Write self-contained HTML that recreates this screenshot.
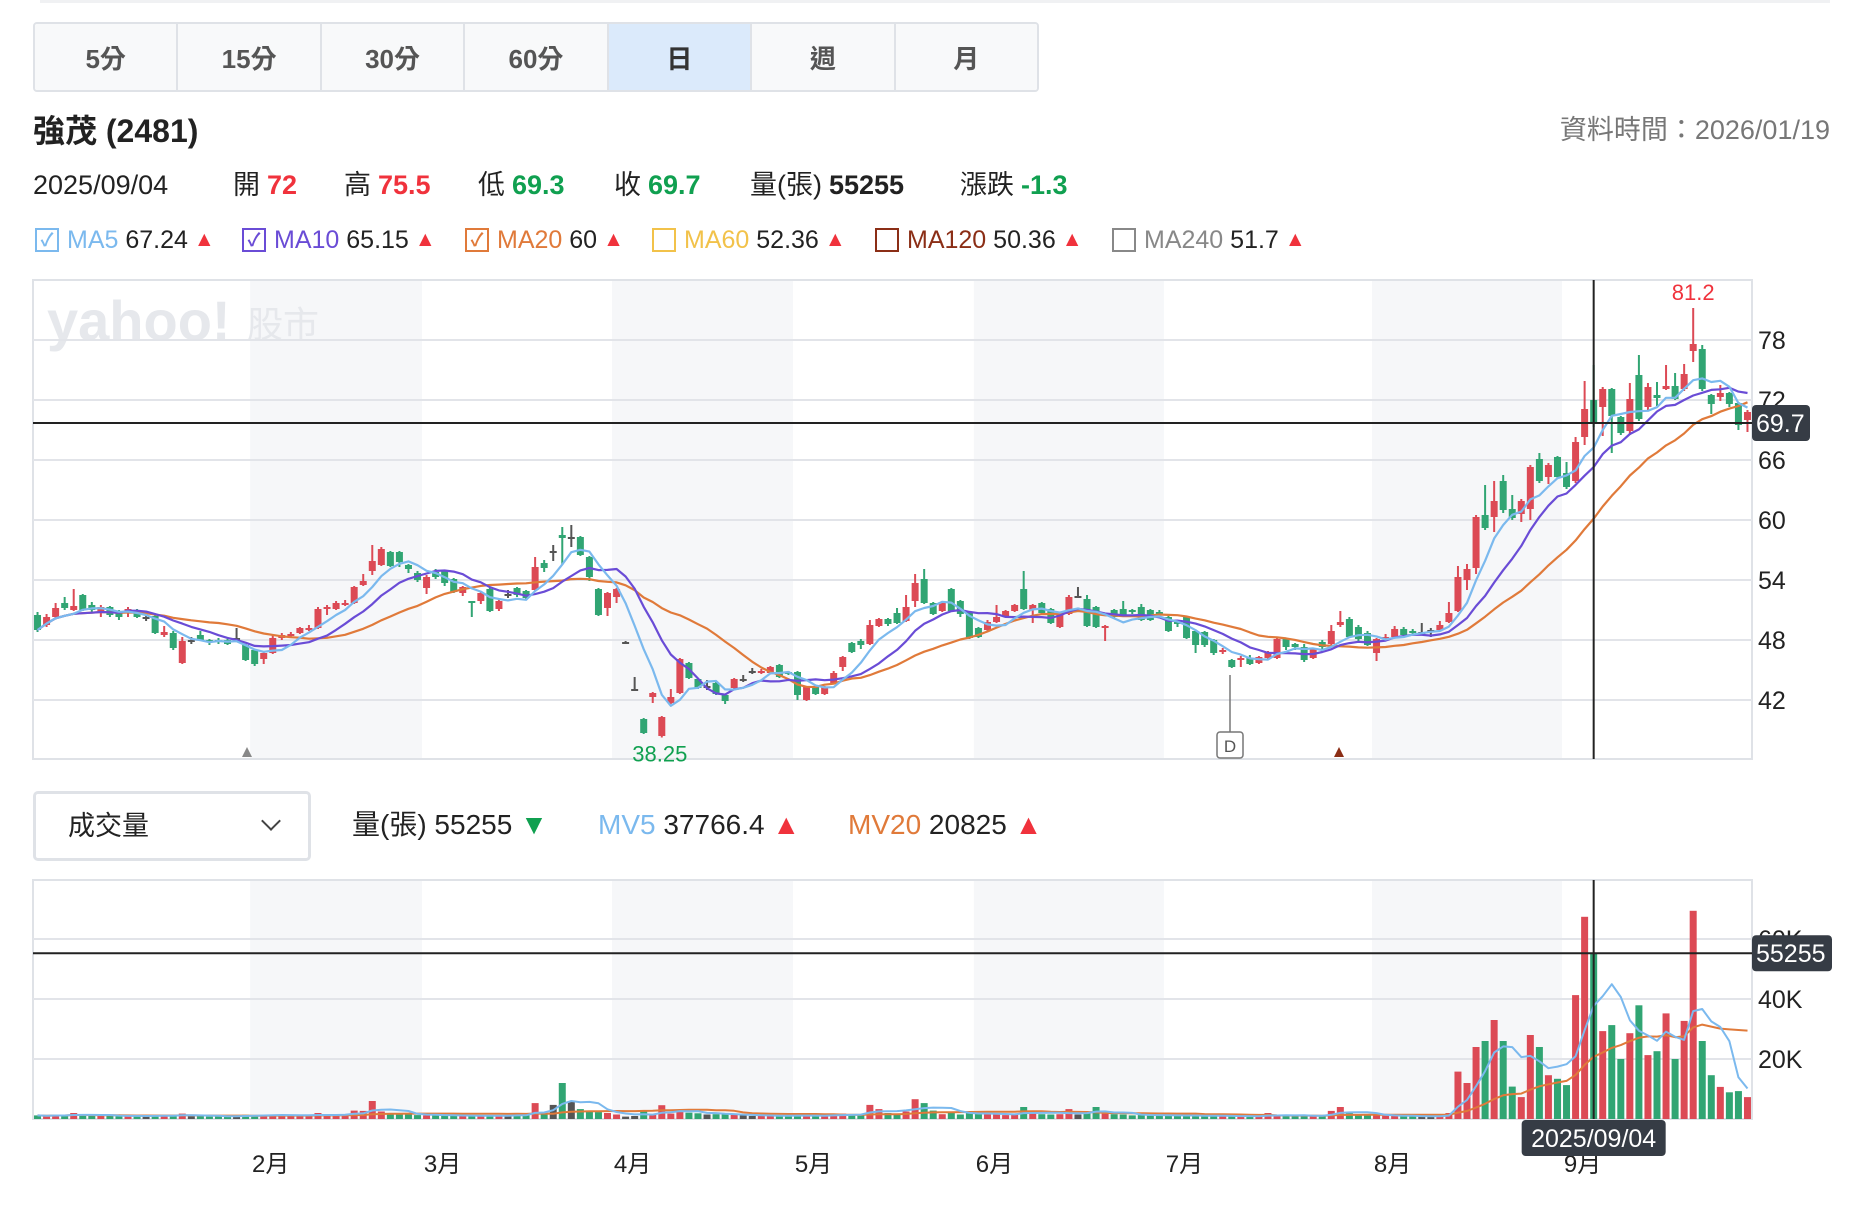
<!DOCTYPE html>
<html><head><meta charset="utf-8">
<style>
*{margin:0;padding:0;box-sizing:border-box}
body{width:1852px;height:1210px;background:#fff;position:relative;overflow:hidden;font-family:"Liberation Sans","Noto Sans CJK TC",sans-serif;color:#222}
.abs{position:absolute;white-space:nowrap}
.tabs{left:33px;top:22px;width:1006px;height:70px;border:2px solid #dfe2e7;border-radius:4px;display:flex;overflow:hidden}
.tab{flex:1;display:flex;align-items:center;justify-content:center;font-size:26px;font-weight:bold;color:#555;border-right:2px solid #dfe2e7;background:#f8f9fa}
.tab:last-child{border-right:none}
.tab.on{background:#dbeafb;color:#333}
.red{color:#f0323c}.green{color:#10a050}
.info{top:168px;height:34px;line-height:34px;font-size:27px;display:flex;align-items:center}
.info b{font-weight:bold;margin-left:7px}
.ma{top:224px;height:32px;line-height:32px;font-size:25px;display:flex;align-items:center}
.cb{width:24px;height:24px;border:2px solid;margin-right:8px;display:inline-flex;align-items:center;justify-content:center;font-size:18px;font-weight:bold;line-height:1}
.tri{color:#f0323c;font-size:21px;margin-left:6px}
.vl{top:808px;height:34px;line-height:34px;font-size:28px;display:flex;align-items:center}
</style></head><body>
<div class="abs" style="left:40px;top:0;width:1790px;height:3px;background:#f0f1f3"></div>
<div class="abs tabs">
<div class="tab">5分</div>
<div class="tab">15分</div>
<div class="tab">30分</div>
<div class="tab">60分</div>
<div class="tab on">日</div>
<div class="tab">週</div>
<div class="tab">月</div>
</div>
<div class="abs" style="left:33px;top:111px;height:40px;line-height:40px;font-size:32px;font-weight:bold">強茂 (2481)</div>
<div class="abs" style="right:22px;top:112px;height:36px;line-height:36px;font-size:27px;color:#777">資料時間：2026/01/19</div>
<div class="abs info" style="left:33px">2025/09/04</div>
<div class="abs info" style="left:233px">開<b class="red">72</b></div>
<div class="abs info" style="left:344px">高<b class="red">75.5</b></div>
<div class="abs info" style="left:478px">低<b class="green">69.3</b></div>
<div class="abs info" style="left:614px">收<b class="green">69.7</b></div>
<div class="abs info" style="left:750px">量(張)<b>55255</b></div>
<div class="abs info" style="left:960px">漲跌<b class="green">-1.3</b></div>

<div class="abs ma" style="left:35px"><span class="cb" style="border-color:#7bb9ee;color:#7bb9ee">✓</span><span style="color:#7bb9ee">MA5</span>&nbsp;67.24<span class="tri">▲</span></div>
<div class="abs ma" style="left:242px"><span class="cb" style="border-color:#6a4cd6;color:#6a4cd6">✓</span><span style="color:#6a4cd6">MA10</span>&nbsp;65.15<span class="tri">▲</span></div>
<div class="abs ma" style="left:465px"><span class="cb" style="border-color:#e07a3a;color:#e07a3a">✓</span><span style="color:#e07a3a">MA20</span>&nbsp;60<span class="tri">▲</span></div>
<div class="abs ma" style="left:652px"><span class="cb" style="border-color:#f2c24a"></span><span style="color:#f2c24a">MA60</span>&nbsp;52.36<span class="tri">▲</span></div>
<div class="abs ma" style="left:875px"><span class="cb" style="border-color:#8b2e16"></span><span style="color:#8b2e16">MA120</span>&nbsp;50.36<span class="tri">▲</span></div>
<div class="abs ma" style="left:1112px"><span class="cb" style="border-color:#888"></span><span style="color:#888">MA240</span>&nbsp;51.7<span class="tri">▲</span></div>

<div class="abs" style="left:33px;top:791px;width:278px;height:70px;border:3px solid #dfe2e7;border-radius:5px;font-size:27px;line-height:64px;padding-left:32px">成交量<span style="position:absolute;right:30px;top:20px;width:14px;height:14px;border-right:2.5px solid #444;border-bottom:2.5px solid #444;transform:rotate(45deg)"></span></div>
<div class="abs vl" style="left:352px">量(張) 55255&nbsp;<span style="color:#10a050">▼</span></div>
<div class="abs vl" style="left:598px"><span style="color:#7bb9ee">MV5</span>&nbsp;37766.4&nbsp;<span class="red">▲</span></div>
<div class="abs vl" style="left:848px"><span style="color:#e07a3a">MV20</span>&nbsp;20825&nbsp;<span class="red">▲</span></div>

<svg id="chart" class="abs" style="left:0;top:0" width="1852" height="1210"></svg>
<script>
const opens=[50.5,49.5,50.3,51.7,51.0,52.5,51.5,50.8,51.3,50.8,50.8,51.0,50.3,50.4,48.5,48.7,45.7,48.0,48.5,48.0,48.0,48.0,48.2,47.5,47.0,46.1,46.7,48.2,48.5,48.7,49.0,49.2,51.1,51.1,51.5,51.7,53.5,54.9,55.5,56.8,56.8,55.5,54.7,53.2,54.8,54.9,54.1,52.7,51.9,51.9,53.1,51.1,52.6,53.2,52.9,53.0,55.7,56.9,58.5,58.3,58.3,56.3,53.1,51.2,52.3,47.8,43.1,40.1,42.3,38.4,41.7,42.7,45.7,44.1,43.4,43.7,42.5,43.2,44.1,44.9,44.7,44.7,45.5,44.8,44.8,42.0,43.3,42.6,43.7,45.3,47.7,47.9,47.6,49.4,50.1,50.7,49.9,51.9,54.1,51.7,50.9,53.1,51.9,50.8,49.2,49.0,49.8,50.4,50.9,53.1,51.0,51.7,51.1,49.3,50.6,52.4,52.1,51.3,49.3,51.0,51.1,51.0,51.3,51.0,50.8,50.3,49.8,50.3,48.9,48.8,48.0,46.9,46.0,46.0,46.2,45.7,46.2,46.2,48.1,47.6,47.3,46.2,47.8,47.6,49.5,50.1,49.3,48.7,46.7,48.2,48.3,49.1,48.9,48.8,49.0,49.0,49.8,50.9,54.0,55.2,60.5,60.3,63.9,61.1,60.6,61.1,66.1,64.3,66.3,64.7,63.9,68.3,72.0,71.3,73.1,70.3,68.9,74.5,71.3,72.5,73.1,73.4,73.1,76.9,77.1,72.5,72.3,72.7,71.7,70.0];
const closes=[49.0,50.3,51.2,51.2,51.4,51.0,51.0,51.3,50.5,50.3,51.1,50.3,50.3,48.7,48.8,47.2,47.9,48.0,48.0,47.8,47.8,47.6,48.2,46.0,45.6,46.7,48.2,48.5,48.6,49.2,49.2,51.1,51.3,51.7,51.7,53.3,53.9,55.9,57.1,55.4,55.8,55.1,54.0,54.3,54.3,53.7,52.8,53.3,51.7,52.7,50.9,51.9,52.6,52.5,52.2,55.3,55.2,56.9,58.2,58.3,56.5,54.3,50.5,52.7,53.1,47.8,43.1,38.7,42.7,40.3,42.3,46.1,44.2,43.2,43.4,42.6,41.9,44.1,44.1,44.9,44.9,45.3,44.3,44.6,42.5,43.3,42.6,43.3,44.7,46.3,46.8,47.5,49.5,50.1,49.6,49.7,51.3,53.7,51.7,50.6,51.8,50.9,50.6,48.2,48.3,49.8,50.3,50.9,51.5,51.1,51.5,50.7,49.7,50.7,52.3,52.4,49.4,49.3,49.4,50.3,50.4,50.8,50.0,50.0,50.6,48.9,49.7,48.2,47.5,47.5,46.7,47.0,45.3,46.2,45.6,46.3,46.8,48.1,47.3,47.3,46.0,47.1,47.3,48.9,49.8,48.3,48.1,47.5,48.1,48.3,49.1,48.5,48.7,48.8,49.0,49.5,50.7,54.3,55.1,60.3,59.2,61.9,61.0,60.2,61.9,65.3,63.9,65.5,64.3,63.3,67.8,71.1,69.7,73.1,70.4,68.7,72.1,70.1,73.3,72.2,73.4,72.1,74.6,77.6,73.1,71.6,72.7,71.6,69.5,70.8];
const highs=[50.8,50.6,51.7,52.3,53.1,52.6,51.8,51.5,51.4,51.0,51.3,51.1,50.5,50.5,49.4,48.9,48.3,48.3,48.9,48.1,48.2,48.1,49.2,47.6,47.1,46.8,48.6,48.7,48.8,49.3,49.5,51.3,51.5,51.9,52.0,53.4,54.6,57.5,57.3,56.9,56.9,55.6,54.9,54.5,55.1,55.0,54.2,53.4,51.9,52.9,53.2,52.0,53.0,53.3,53.0,56.3,56.0,57.5,59.3,59.5,58.4,56.4,53.2,52.8,53.2,47.9,44.3,40.2,42.8,40.4,43.1,46.2,45.8,44.2,44.0,43.8,42.6,44.2,44.5,45.2,45.1,45.4,45.6,44.9,44.9,43.4,43.4,43.4,44.9,46.4,47.8,48.1,50.0,50.2,50.2,51.2,52.5,54.6,55.1,51.8,51.9,53.2,52.0,50.9,49.3,50.0,51.5,51.0,51.6,54.9,51.6,51.8,51.2,50.8,52.5,53.3,52.5,51.4,49.5,51.1,51.9,51.1,51.6,51.1,51.0,50.4,50.0,50.4,49.0,48.9,48.1,47.2,46.1,46.4,46.5,46.4,46.9,48.2,48.2,47.7,47.6,47.2,48.0,49.5,50.9,50.3,49.5,48.9,48.2,48.6,49.4,49.3,49.1,49.7,49.2,49.9,51.8,55.4,55.6,60.5,63.5,63.9,64.5,62.5,62.1,65.5,66.7,65.7,66.4,65.8,68.3,73.9,75.5,73.3,73.2,70.4,73.7,76.5,73.7,73.8,75.5,74.7,75.6,81.2,77.5,72.6,73.5,72.8,71.8,71.0];
const lows=[48.8,49.3,50.1,51.0,50.9,50.9,50.8,50.3,50.3,50.0,50.3,50.2,49.9,48.6,48.3,47.0,45.6,47.6,47.9,47.5,47.6,47.5,48.0,45.9,45.4,45.6,46.6,48.0,48.3,48.6,48.9,49.1,50.5,51.0,51.4,51.6,53.4,54.5,55.4,55.3,55.3,54.7,53.8,52.6,54.1,53.4,52.7,52.4,50.3,51.6,50.8,50.9,52.2,52.3,52.0,52.9,54.8,55.9,55.5,57.3,56.4,53.9,50.4,50.4,51.7,47.7,43.0,38.6,41.7,38.25,41.6,42.6,44.1,43.1,43.0,42.5,41.6,43.1,43.8,44.6,44.6,44.6,44.2,44.5,42.0,41.9,42.5,42.5,43.6,44.9,46.7,47.1,47.5,49.3,49.4,49.6,49.8,51.3,51.6,50.5,50.8,50.8,50.3,48.1,48.2,48.9,49.7,50.3,50.8,51.0,49.7,50.6,49.6,49.2,50.5,52.2,49.3,49.2,47.9,50.1,50.3,50.6,49.9,49.9,50.4,48.8,49.3,48.1,46.7,47.3,46.5,46.6,45.2,45.3,45.5,45.6,46.1,46.1,47.0,47.0,45.8,46.1,47.0,47.5,49.3,48.2,47.9,47.4,45.9,48.0,48.2,48.3,48.5,48.6,48.3,48.9,49.7,50.8,53.0,54.6,59.0,58.8,60.7,60.0,59.8,60.0,63.7,63.6,64.2,63.1,63.7,67.5,69.3,68.4,66.7,68.5,68.5,69.9,70.9,71.4,73.0,72.0,72.9,75.8,72.9,70.6,71.9,71.3,69.0,68.8];
const volumes=[1.2,1.0,1.3,1.1,2.0,1.4,1.0,1.1,1.2,0.9,1.0,0.9,1.0,1.3,1.1,1.2,1.8,0.9,1.0,0.8,0.9,1.0,0.9,1.4,1.3,1.2,1.5,1.3,1.2,1.0,1.2,2.0,1.3,1.1,1.5,2.8,2.7,6.0,2.5,1.8,1.6,1.5,1.3,1.2,1.4,1.1,1.2,1.0,0.9,1.1,1.3,1.2,1.0,1.4,1.2,5.3,2.0,4.7,12.0,6.0,3.3,2.5,2.3,2.0,1.5,0.8,1.0,2.5,1.5,4.6,1.8,2.8,2.1,1.9,1.5,1.6,1.5,1.6,1.2,1.0,1.1,1.0,1.2,1.0,1.3,1.1,1.0,1.1,1.5,1.8,1.5,1.4,4.7,3.3,2.0,1.8,2.5,6.6,5.3,2.8,1.6,2.0,1.5,2.2,1.8,1.6,1.5,1.3,1.4,4.0,1.8,1.6,1.5,1.6,3.3,1.5,2.0,4.0,1.8,1.6,1.5,1.2,1.3,1.1,1.4,1.2,1.0,1.1,1.2,1.0,1.1,0.9,1.0,0.8,1.0,0.9,2.0,1.2,1.0,0.9,1.1,1.3,1.0,2.7,4.0,2.0,1.4,1.2,1.3,1.1,1.0,0.9,1.0,0.9,0.8,1.0,2.0,15.8,12.0,24.0,26,33,26,10.8,7.3,28,24,14.6,13.4,11.3,41.3,67.4,55.3,29.3,31.3,20,28.6,37.9,21.3,22.6,35.2,20,32.7,69.4,26,14.6,10.7,8.9,9.3,7.3];
const priceTicks=[42,48,54,60,66,72,78];
const volTicks=[20,40,60];
const volTickLabels=['20K','40K','60K'];
const monthLabels=['2月','3月','4月','5月','6月','7月','8月','9月'];
const monthStartIdx=[24,43,64,84,104,125,148,169];
const shadedMonths=[0,2,4,6];
const selIdx=172, selPrice=69.7, selVol=55.255, lowIdx=69, highIdx=183;

const NS='http://www.w3.org/2000/svg';
const svg=document.getElementById('chart');
const L=33,R=1752,PT=280,PB=759,VT=880,VB=1119;
const N=closes.length, step=(R-L)/N;
const xS=i=>L+(i+0.5)*step;
const yP=v=>400+(72-v)*10;
const yV=v=>VB-v*3;
function mk(tag,attrs,parent){const e=document.createElementNS(NS,tag);for(const k in attrs)e.setAttribute(k,attrs[k]);(parent||svg).appendChild(e);return e;}
const RED='#dc4a55',GREEN='#31a573',GRAY='#555';
function col(i){return closes[i]>opens[i]?RED:closes[i]<opens[i]?GREEN:GRAY;}

shadedMonths.forEach(m=>{
  const x0=xS(monthStartIdx[m])-step/2,x1=xS(monthStartIdx[m+1])-step/2;
  let e=mk('rect',{x:x0,y:PT,width:x1-x0,height:PB-PT,fill:'#f6f7f9'});
  
  e=mk('rect',{x:x0,y:VT,width:x1-x0,height:VB-VT,fill:'#f6f7f9'});
  
});
let wm=mk('text',{x:47,y:340,'font-size':56,'font-weight':'bold',fill:'#e6e8ec','font-family':'Liberation Sans, sans-serif'});
wm.textContent='yahoo!';

let wm2=mk('text',{x:247,y:337,'font-size':36,fill:'#e6e8ec','font-family':'Liberation Sans, Noto Sans CJK TC, sans-serif'});wm2.textContent='股市';

let f=mk('rect',{x:L,y:PT,width:R-L,height:PB-PT,fill:'none',stroke:'#dfe2e7','stroke-width':2});

f=mk('rect',{x:L,y:VT,width:R-L,height:VB-VT,fill:'none',stroke:'#dfe2e7','stroke-width':2});

priceTicks.forEach(t=>{
  const g=mk('line',{x1:L,x2:R,y1:yP(t),y2:yP(t),stroke:'#e2e4e9','stroke-width':2});
  
  const tx=mk('text',{x:R+6,y:yP(t)+9,'font-size':25,fill:'#222'});tx.textContent=t;
  
});
volTicks.forEach((t,k)=>{
  const g=mk('line',{x1:L,x2:R,y1:yV(t),y2:yV(t),stroke:'#e2e4e9','stroke-width':2});
  
  const tx=mk('text',{x:R+6,y:yV(t)+9,'font-size':25,fill:'#222'});tx.textContent=volTickLabels[k];
  
});
for(let i=0;i<N;i++){
  const c=col(i),x=xS(i);
  const w=mk('line',{x1:x,x2:x,y1:yP(highs[i]),y2:yP(lows[i]),stroke:c,'stroke-width':2});
  
  const top=yP(Math.max(opens[i],closes[i])),bot=yP(Math.min(opens[i],closes[i]));
  const b=mk('rect',{x:x-3.5,y:top,width:7,height:Math.max(2,bot-top),fill:c});
  
}
function sma(arr,n){return arr.map((_,i)=>{const s=Math.max(0,i-n+1);let t=0;for(let k=s;k<=i;k++)t+=arr[k];return t/(i-s+1);});}
function line(vals,ys,color,name,w){
  const p=mk('polyline',{points:vals.map((v,i)=>xS(i).toFixed(1)+','+ys(v).toFixed(1)).join(' '),fill:'none',stroke:color,'stroke-width':w||2.2,'stroke-linejoin':'round'});
  
}
line(sma(closes,20),yP,'#e07a3a','ma20-line');
line(sma(closes,10),yP,'#6a4cd6','ma10-line');
line(sma(closes,5),yP,'#7bb9ee','ma5-line');
for(let i=0;i<N;i++){
  const b=mk('rect',{x:xS(i)-3.5,y:yV(volumes[i]),width:7,height:VB-yV(volumes[i]),fill:col(i)});
  
}
line(sma(volumes,20),yV,'#e07a3a','mv20-line',2);
line(sma(volumes,5),yV,'#7bb9ee','mv5-line',2);
let hl=mk('text',{x:xS(highIdx),y:yP(highs[highIdx])-8,'font-size':22,fill:'#f0323c','text-anchor':'middle'});hl.textContent=highs[highIdx];

let ll=mk('text',{x:xS(lowIdx)-2,y:yP(lows[lowIdx])+24,'font-size':22,fill:'#10a050','text-anchor':'middle'});ll.textContent=lows[lowIdx];

let m1=mk('polygon',{points:'242,757 252,757 247,747',fill:'#888'});
let m2=mk('polygon',{points:'1334,757 1344,757 1339,747',fill:'#8b2e16'});
let dl=mk('line',{x1:1230,x2:1230,y1:675,y2:732,stroke:'#777','stroke-width':1.5});
let db=mk('rect',{x:1217,y:732,width:26,height:26,rx:3,fill:'#fff',stroke:'#777','stroke-width':1.5});
let dt=mk('text',{x:1230,y:752,'font-size':17,fill:'#555','text-anchor':'middle'});dt.textContent='D';
const cx=xS(selIdx);
[[PT,PB],[VT,VB]].forEach(([a,b])=>{const l=mk('line',{x1:cx,x2:cx,y1:a,y2:b,stroke:'#222','stroke-width':2});});
let hp=mk('line',{x1:L,x2:R,y1:yP(selPrice),y2:yP(selPrice),stroke:'#222','stroke-width':2});
let hv=mk('line',{x1:L,x2:R,y1:yV(selVol),y2:yV(selVol),stroke:'#222','stroke-width':2});
let pb=mk('rect',{x:R,y:yP(selPrice)-18,width:58,height:36,rx:4,fill:'#363c45'});
let pt=mk('text',{x:R+4,y:yP(selPrice)+9,'font-size':25,fill:'#fff'});pt.textContent=selPrice;
let vb=mk('rect',{x:R,y:yV(selVol)-18,width:80,height:36,rx:4,fill:'#363c45'});
let vt=mk('text',{x:R+4,y:yV(selVol)+9,'font-size':25,fill:'#fff'});vt.textContent=Math.round(selVol*1000);
monthLabels.forEach((m,k)=>{
  const t=mk('text',{x:xS(monthStartIdx[k])+16,y:1172,'font-size':24,fill:'#222','text-anchor':'middle','font-family':'Liberation Sans, Noto Sans CJK TC, sans-serif'});t.textContent=m;
  
});
let dbx=mk('rect',{x:cx-72,y:1120,width:144,height:36,rx:4,fill:'#363c45'});
let dtx=mk('text',{x:cx,y:1147,'font-size':25,fill:'#fff','text-anchor':'middle'});dtx.textContent='2025/09/04';
</script>
</body></html>
